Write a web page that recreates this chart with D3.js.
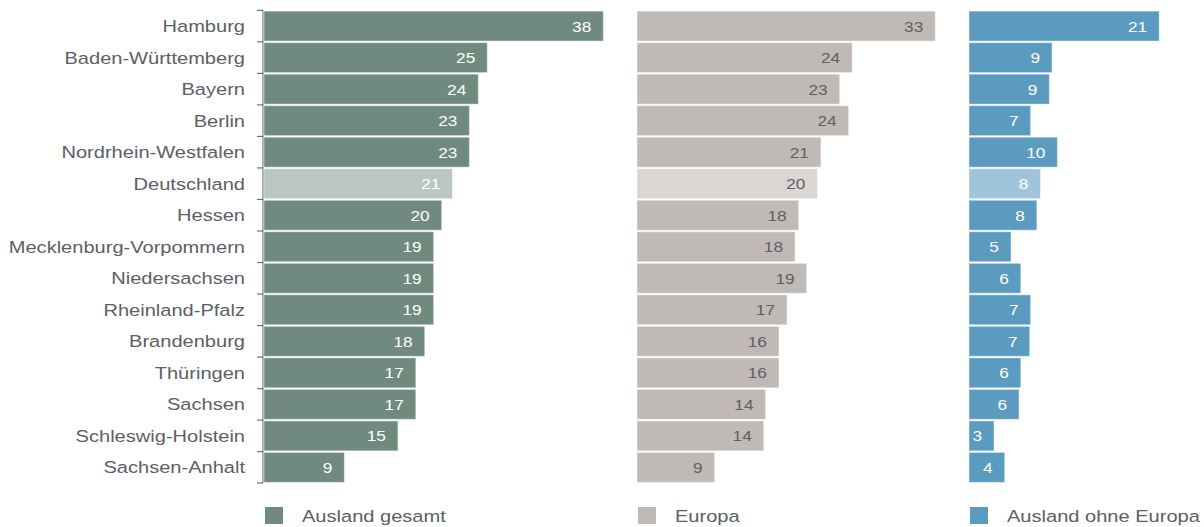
<!DOCTYPE html>
<html>
<head>
<meta charset="utf-8">
<script src="https://cdn.jsdelivr.net/npm/d3@7"></script>
<style>
  body { margin: 0; background: #fff; }
  text { font-family: "Liberation Sans", Arial, sans-serif; }
</style>
</head>
<body>
<script>
const categories = ['Hamburg', 'Baden-Württemberg', 'Bayern', 'Berlin', 'Nordrhein-Westfalen',
  'Deutschland', 'Hessen', 'Mecklenburg-Vorpommern', 'Niedersachsen', 'Rheinland-Pfalz',
  'Brandenburg', 'Thüringen', 'Sachsen', 'Schleswig-Holstein', 'Sachsen-Anhalt']

const auslandGesamt = [38.0, 25.0, 24.0, 23.0, 23.0, 21.1, 19.9, 19.0, 19.0, 19.0, 18.0, 17.0, 17.0, 15.0, 9.0]
const europa = [33.4, 24.1, 22.7, 23.7, 20.6, 20.2, 18.1, 17.7, 19.0, 16.8, 15.9, 15.9, 14.4, 14.2, 8.7]
const ohneEuropa = [21.3, 9.3, 9.0, 6.9, 9.9, 8.0, 7.6, 4.7, 5.8, 6.9, 6.8, 5.8, 5.6, 2.8, 4.0]

const seriesNames = ['Ausland gesamt', 'Europa', 'Ausland ohne Europa']
const highlight = 'Deutschland'

const width = 1204
const height = 527
const stretch = 1.16 // the source text is a bit wider than plain Arial

const panels = [
  { name: seriesNames[0], values: auslandGesamt, x0: 264, color: '#718a7f', light: '#b9c6c1', textColor: '#ffffff' },
  { name: seriesNames[1], values: europa, x0: 637, color: '#bfbab6', light: '#d9d6d3', textColor: '#5c6066' },
  { name: seriesNames[2], values: ohneEuropa, x0: 969, color: '#5b9bbf', light: '#a0c4d9', textColor: '#ffffff' }
]

const svg = d3.select('body')
  .append('svg')
  .attr('width', width)
  .attr('height', height)

const yScale = d3.scaleBand()
  .domain(categories)
  .range([10.5, 483])
  .paddingInner(0.05)
  .paddingOuter(0.02)

const xScale = d3.scaleLinear()
  .domain([0, 10])
  .range([0, 89.3])

// category labels
svg.append('g')
  .selectAll('text')
  .data(categories)
  .enter()
  .append('text')
  .attr('transform', d => `translate(245, ${yScale(d) + yScale.bandwidth() / 2 + 6}) scale(${stretch}, 1)`)
  .attr('text-anchor', 'end')
  .attr('font-size', 17.3)
  .attr('fill', '#5b6066')
  .text(d => d)

// axis line with ticks between categories
const axis = svg.append('g')
axis.append('line')
  .attr('x1', 263).attr('x2', 263)
  .attr('y1', 10.5).attr('y2', 483)
  .attr('stroke', '#6b6f74')
  .attr('stroke-width', 1.2)

const tickYs = categories.map(d => yScale(d) - yScale.step() * yScale.paddingInner() / 2)
tickYs.push(483)
axis.selectAll('line.tick')
  .data(tickYs)
  .enter()
  .append('line')
  .attr('class', 'tick')
  .attr('x1', 257).attr('x2', 263)
  .attr('y1', d => d).attr('y2', d => d)
  .attr('stroke', '#6b6f74')
  .attr('stroke-width', 1.2)

panels.forEach(p => {
  const g = svg.append('g')
    .attr('transform', `translate(${p.x0}, 0)`)

  g.selectAll('rect')
    .data(categories)
    .enter()
    .append('rect')
    .attr('x', 0)
    .attr('y', d => yScale(d))
    .attr('width', (d, i) => xScale(p.values[i]))
    .attr('height', yScale.bandwidth())
    .attr('fill', d => d === highlight ? p.light : p.color)
    .attr('stroke', 'rgba(255,255,255,0.45)')
    .attr('stroke-width', 1)

  g.selectAll('text')
    .data(categories)
    .enter()
    .append('text')
    .attr('transform', (d, i) => `translate(${xScale(p.values[i]) - 12}, ${yScale(d) + yScale.bandwidth() / 2 + 5.5}) scale(1.13, 1)`)
    .attr('text-anchor', 'end')
    .attr('font-size', 15.3)
    .attr('fill', p.textColor)
    .text((d, i) => Math.round(p.values[i]))

  // legend
  svg.append('rect')
    .attr('x', p.x0 + 1)
    .attr('y', 507)
    .attr('width', 18)
    .attr('height', 17)
    .attr('fill', p.color)

  svg.append('text')
    .attr('transform', `translate(${p.x0 + 38}, 521.5) scale(${stretch}, 1)`)
    .attr('font-size', 17.3)
    .attr('fill', '#5b6066')
    .text(p.name)
})
</script>
</body>
</html>
